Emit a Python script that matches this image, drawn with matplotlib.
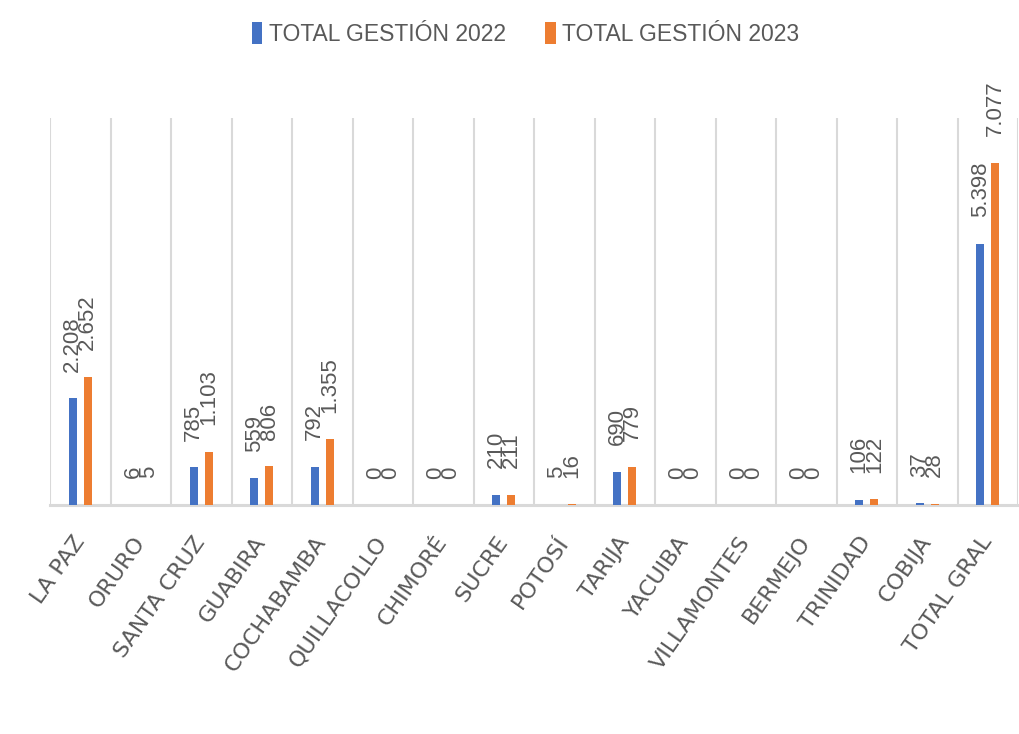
import matplotlib.pyplot as plt
import numpy as np

# data
categories = ['LA PAZ', 'ORURO', 'SANTA CRUZ', 'GUABIRA', 'COCHABAMBA', 'QUILLACOLLO',
              'CHIMORÉ', 'SUCRE', 'POTOSÍ', 'TARIJA', 'YACUIBA', 'VILLAMONTES',
              'BERMEJO', 'TRINIDAD', 'COBIJA', 'TOTAL GRAL']
gestion_2022 = [2208, 6, 785, 559, 792, 0, 0, 210, 5, 690, 0, 0, 0, 106, 37, 5398]
gestion_2023 = [2652, 5, 1103, 806, 1355, 0, 0, 211, 16, 779, 0, 0, 0, 122, 28, 7077]
series_names = ['TOTAL GESTIÓN 2022', 'TOTAL GESTIÓN 2023']

blue = '#4472C4'
orange = '#ED7D31'
grey_text = '#595959'
grid_col = '#D9D9D9'

fig = plt.figure(figsize=(10.19, 7.34), dpi=100)
ax = fig.add_axes([50 / 1019, 1 - 505 / 734, 968 / 1019, 387 / 734])

x = np.arange(len(categories))
w = 0.13
off = 0.125
b1 = ax.bar(x - off, gestion_2022, w, color=blue, label=series_names[0], zorder=3)
b2 = ax.bar(x + off, gestion_2023, w, color=orange, label=series_names[1], zorder=3)

def fmt(v):
    return f"{v:,}".replace(',', '.')

#value labels, rotated like in the original (they overlap there too)
for bars, vals in [(b1, gestion_2022), (b2, gestion_2023)]:
    for rect, v in zip(bars, vals):
        ax.annotate(fmt(v), (rect.get_x() + rect.get_width() / 2, v),
                    xytext=(0, 19), textcoords='offset points',
                    rotation=90, ha='center', va='bottom',
                    fontsize=16, color=grey_text, family='Liberation Sans', zorder=4)

ax.set_xlim(-0.5, len(categories) - 0.5)
ax.set_ylim(0, 8000)

#category separator lines
for i in range(len(categories) + 1):
    ax.axvline(i - 0.5, color=grid_col, lw=1.5, zorder=1)

for s in ['top', 'right', 'left']:
    ax.spines[s].set_visible(False)
ax.spines['bottom'].set_color(grid_col)
ax.spines['bottom'].set_linewidth(2.2)
ax.set_yticks([])

ax.set_xticks(x)
ax.set_xticklabels(categories, rotation=55, ha='right', va='center', rotation_mode='anchor',
                   fontsize=16, color=grey_text, family='DejaVu Sans')
ax.tick_params(axis='x', length=0, pad=24)

leg = fig.legend(loc='upper center', bbox_to_anchor=(0.516, 0.998), ncol=2, frameon=False,
                 handlelength=0.45, handleheight=1.1, handletextpad=0.3, columnspacing=1.7,
                 prop={'family': 'Liberation Sans', 'size': 16.5})
for t in leg.get_texts():
    t.set_color(grey_text)

plt.savefig('out.png', dpi=100)
